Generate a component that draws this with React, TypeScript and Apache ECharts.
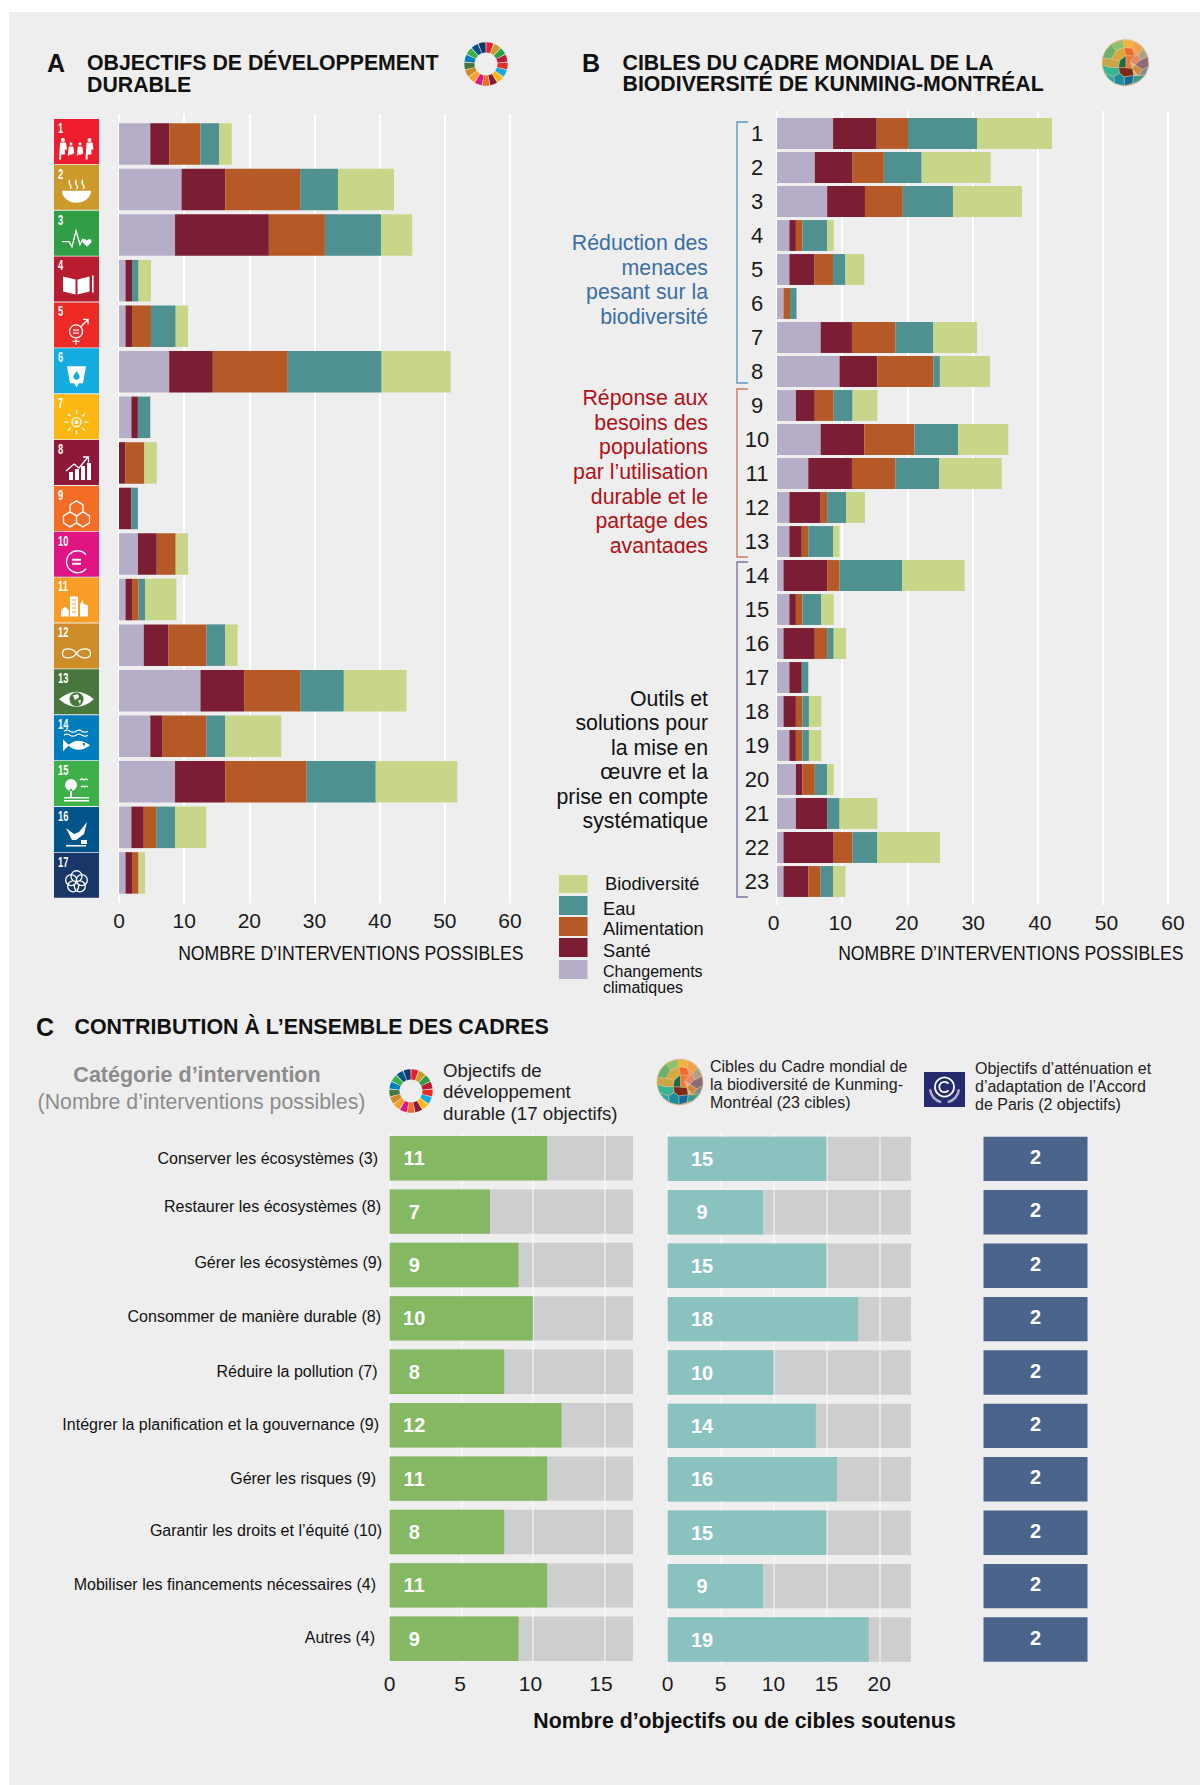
import React, { useEffect, useRef } from "react";
import * as echarts from "echarts";

const FONT = '"Liberation Sans", Arial, sans-serif';

// ---- Data ----
const goalNumbers = ["1","2","3","4","5","6","7","8","9","10","11","12","13","14","15","16","17"];
const goalClimate = [4.8,9.6,8.6,1,1,7.7,1.9,0,0,2.9,1,3.8,12.5,4.8,8.6,1.9,1];
const goalHealth  = [2.9,6.7,14.4,1,1,6.7,1,1,1.9,2.9,1,3.8,6.7,1.9,7.7,1.9,1];
const goalFood    = [4.8,11.5,8.6,0,2.9,11.5,0,2.9,0,2.9,1,5.8,8.6,6.7,12.5,1.9,1];
const goalWater   = [2.9,5.8,8.6,1,3.8,14.4,1.9,0,1,0,1,2.9,6.7,2.9,10.6,2.9,0];
const goalBio     = [1.9,8.6,4.8,1.9,1.9,10.6,0,1.9,0,1.9,4.8,1.9,9.6,8.6,12.5,4.8,1];

const targetNumbers = ["1","2","3","4","5","6","7","8","9","10","11","12","13","14","15","16","17","18","19","20","21","22","23"];
const targetClimate = [8.6,5.8,7.7,1.9,1.9,1,6.7,9.6,2.9,6.7,4.8,1.9,1.9,1,1.9,1,1.9,1,1.9,2.9,2.9,1,1];
const targetHealth  = [6.7,5.8,5.8,1,3.8,0,4.8,5.8,2.9,6.7,6.7,4.8,1.9,6.7,1,4.8,1.9,1.9,1,1,4.8,7.7,3.8];
const targetFood    = [4.8,4.8,5.8,1,2.9,1,6.7,8.6,2.9,7.7,6.7,1,1,1.9,1,1.9,0,1,1,1.9,0,2.9,1.9];
const targetWater   = [10.6,5.8,7.7,3.8,1.9,1,5.8,1,2.9,6.7,6.7,2.9,3.8,9.6,2.9,1,1,1,1,1.9,1.9,3.8,1.9];
const targetBio     = [11.5,10.6,10.6,1,2.9,0,6.7,7.7,3.8,7.7,9.6,2.9,1,9.6,1.9,1.9,0,1.9,1.9,1,5.8,9.6,1.9];

const themeNames = ["Changements climatiques","Santé","Alimentation","Eau","Biodiversité"];
const themeColors = ["#b6aec8","#7b1e33","#b55a27","#4f9190","#c8d68a"];

const interventionCategories = [
  "Conserver les écosystèmes (3)","Restaurer les écosystèmes (8)","Gérer les écosystèmes (9)",
  "Consommer de manière durable (8)","Réduire la pollution (7)","Intégrer la planification et la gouvernance (9)",
  "Gérer les risques (9)","Garantir les droits et l’équité (10)","Mobiliser les financements nécessaires (4)","Autres (4)",
];
const sdgSupported    = [11,7,9,10,8,12,11,8,11,9];
const sdgTotal        = [17,17,17,17,17,17,17,17,17,17];
const kmgbfSupported  = [15,9,15,18,10,14,16,15,9,19];
const kmgbfTotal      = [23,23,23,23,23,23,23,23,23,23];
const parisSupported  = [2,2,2,2,2,2,2,2,2,2];

const sdgColors = ["#ed1c2e","#cc9a2b","#2f9e47","#b71c30","#ee2a26","#14abdf","#fdb713","#8f1838","#f36d25","#e11484","#f99d26","#cf8d2a","#48773e","#007dbc","#3eb049","#02558b","#183668"];
const axisTicksNote = "NOMBRE D’INTERVENTIONS POSSIBLES";

// Label placement of panel C's row names (styling only)
const rowLabelPadRight = [6.7,3.7,2.7,3.7,7.2,5.7,8.7,2.7,8.7,9.7];
const rowLabelPadBottom = [0,9.6,4.6,4,1.6,2,0,2.6,2,2.6];

// ---- Icon glyphs (local 45x45 box) ----
const circ = (x: number, y: number, r: number) => `M${x - r} ${y}a${r} ${r} 0 1 0 ${2 * r} 0a${r} ${r} 0 1 0 ${-2 * r} 0Z`;
const box = (x: number, y: number, w: number, h: number) => `M${x} ${y}h${w}v${h}h${-w}Z`;
const person = (x: number, top: number, w: number) => circ(x, top, w * 0.33) + `M${x - w / 2} ${top + 2.5}h${w}l1 7h-${w * 0.35}v${35.5 - top - 9.5}h-${w * 0.3 + 2}v${35.5 - top - 9.5}h-${w * 0.35}Z`;

type Glyph = [string, "fill" | "stroke", string?, number?];
const sunRays = [0, 45, 90, 135, 180, 225, 270, 315].map((a) => {
  const c = Math.cos((a * Math.PI) / 180), s = Math.sin((a * Math.PI) / 180);
  return `M${22.5 + c * 8} ${28 + s * 8}L${22.5 + c * 12} ${28 + s * 12}`;
}).join("");
const glyphs: Glyph[][] = [
  [[person(9, 21, 6) + person(17, 25, 4.5) + person(26, 25, 4.5) + person(35.5, 21, 6), "fill"]],
  [["M8 26h29a14.5 12 0 0 1 -29 0Z", "fill"], ["M16 15q-2 2.5 0 5t0 4M22.5 15q-2 2.5 0 5t0 4M29 15q-2 2.5 0 5t0 4", "stroke"]],
  [["M8 31h7l3 5 4-16 4 14 3-6", "stroke"], ["M33 30c-2-3-6-1-4 2l4 4 4-4c2-3-2-5-4-2Z", "fill"]],
  [["M9 20l12.5 3v15l-12.5-3ZM23.5 23l12-3v15l-12 3Z", "fill"], [box(38, 19, 1.6, 17), "fill"]],
  [[circ(22, 29, 6.5) + "M27 24l7-7M29 17h5v5M22 35.5v7M18.5 39h7", "stroke"], [box(19, 27, 6, 1.3) + box(19, 30, 6, 1.3), "fill"]],
  [["M13 18h19l-3 17h-4l-2.5 4-2.5-4h-4Z", "fill"], ["M22.5 23c-3 4-3.5 5-3 6.5 1 2.5 5 2.5 6 0 .5-1.5 0-2.5-3-6.5Z", "fill", "#14abdf"]],
  [[circ(22.5, 28, 4.5), "stroke"], [circ(22.5, 28, 2), "fill"], [sunRays, "stroke"]],
  [[box(15, 32, 4, 8) + box(21, 29, 4, 11) + box(27, 26, 4, 14) + box(33, 23, 4, 17), "fill"], ["M12 31l8-7 5 4 9-11M29 17h5.5v5.5", "stroke"]],
  [["M22.5 15l6.5 4v7l-6.5 4-6.5-4v-7ZM16 26l6.5 4v7l-6.5 4-6.5-4v-7ZM29 26l6.5 4v7l-6.5 4-6.5-4v-7Z", "stroke"]],
  [["M32 23a11 11 0 1 0 0 14", "stroke"], [box(18, 27, 9, 2) + box(18, 31, 9, 2), "fill"]],
  [[box(16, 19, 8, 20) + "M26 39v-12l3-5v4l5 2v11Z" + "M7 39v-6l4-4 4 4v6Z", "fill"], [box(18, 22, 4, 1) + box(18, 26, 4, 1) + box(18, 30, 4, 1) + box(18, 34, 4, 1), "fill", "#f99d26"]],
  [["M22.5 30c-4-6-14-6-14 0s10 6 14 0 14-6 14 0-10 6-14 0Z", "stroke"]],
  [["M5 30Q22.5 15 40 30Q22.5 45 5 30Z", "fill"], [circ(22.5, 30, 7), "fill", "#48773e"], ["M19 26l5-1 1 3-4 3ZM24 31l3 0-1 4Z", "fill"]],
  [["M10 16q3-2 6 0t6 0 6 0 6 0M10 20q3-2 6 0t6 0 6 0 6 0", "stroke"], ["M14 30q10-9 22 0q-12 9-22 0ZM9 24l6 6-6 6Z", "fill"], [circ(30, 29, 1.2), "fill", "#007dbc"]],
  [[circ(17, 24, 6) + box(16, 28, 2, 8) + box(10, 36, 25, 1.5) + box(10, 39, 25, 1.5), "fill"], ["M26 19q2-2 4 0q2-2 4 0M27 26q2-2 3.5 0q2-2 3.5 0", "stroke"]],
  [["M12 21l8 6 5-2 8-10-3 12-8 6h-4ZM27 37h6v-4h-6ZM12 38h20v1.5h-20Z", "fill"]],
  [[circ(22.5, 23.5, 5.5) + circ(27.8, 27.4, 5.5) + circ(25.8, 33.6, 5.5) + circ(19.2, 33.6, 5.5) + circ(17.2, 27.4, 5.5), "stroke"]],
];
const glyphShapes: string[][] = glyphs.map((list, i) =>
  list.map((g, j) => {
    const name = `sdg${i}_${j}`;
    echarts.graphic.registerShape(name, echarts.graphic.extendPath(g[0], {}) as any);
    return name;
  })
);

// Mosaic logo cells (unit circle)
const mosaicCells: [number[][], string][] = [
  [[[-.6,-.78],[-.1,-.98],[-.05,-.65],[-.4,-.5]], "#8cc26a"],
  [[[-.1,-.98],[.35,-.92],[.3,-.6],[-.05,-.65]], "#f3b23c"],
  [[[.35,-.92],[.75,-.62],[.55,-.35],[.3,-.6]], "#efa24a"],
  [[[-.6,-.78],[-.4,-.5],[-.6,-.15],[-.97,-.2],[-.85,-.5]], "#6fb06a"],
  [[[-.4,-.5],[-.05,-.65],[.02,-.3],[-.25,-.08],[-.6,-.15]], "#d9a83e"],
  [[[-.05,-.65],[.3,-.6],[.42,-.28],[.02,-.3]], "#ee6a2c"],
  [[[.3,-.6],[.55,-.35],[.42,-.28]], "#f0925a"],
  [[[.75,-.62],[.95,-.25],[.6,-.08],[.55,-.35]], "#a9a18a"],
  [[[.42,-.28],[.55,-.35],[.6,-.08],[.42,.1],[.2,-.05]], "#e9866a"],
  [[[.02,-.3],[.42,-.28],[.2,-.05],[.3,.25],[.02,.22]], "#f07a32"],
  [[[-.25,-.08],[.02,-.3],[.02,.22],[-.3,.2]], "#1a6a45"],
  [[[-.97,-.2],[-.6,-.15],[-.25,-.08],[-.3,.2],[-.7,.2],[-.99,.1]], "#c9a546"],
  [[[.95,-.25],[.99,.15],[.72,.3],[.42,.1],[.6,-.08]], "#8a6b78"],
  [[[.42,.1],[.72,.3],[.55,.55],[.3,.25]], "#d08a3c"],
  [[[.99,.15],[.85,.52],[.55,.55],[.72,.3]], "#7f8c8c"],
  [[[-.3,.2],[.02,.22],[.3,.25],[.35,.55],[-.05,.6],[-.25,.45]], "#7e2a1a"],
  [[[-.99,.1],[-.7,.2],[-.3,.2],[-.25,.45],[-.5,.6],[-.88,.45]], "#34b594"],
  [[[.85,.52],[.55,.8],[.3,.88],[.35,.55],[.55,.55]], "#3a9a8a"],
  [[[-.05,.6],[.35,.55],[.3,.88],[-.05,.98]], "#15699a"],
  [[[-.25,.45],[-.05,.6],[-.05,.98],[-.45,.88],[-.5,.6]], "#1b8fa0"],
  [[[-.88,.45],[-.5,.6],[-.45,.88],[-.72,.68]], "#2ea6a0"],
];

function App() {
  const ref = useRef<HTMLDivElement>(null);
  useEffect(() => {
    const chart = echarts.init(ref.current!, undefined, { renderer: "svg" });

    const txt = (text: string, x: number, y: number, size: number, o: any = {}) => ({
      type: "text", x, y, scaleX: o.scaleX ?? 1, silent: true,
      style: {
        text, fill: o.color ?? "#111", fontSize: size, fontFamily: FONT, fontWeight: o.weight ?? "normal",
        align: o.align ?? "left", verticalAlign: "middle", textAlign: o.align ?? "left", textVerticalAlign: "middle",
      },
    });

    const wheel = (cx: number, cy: number) => sdgColors.map((c, i) => ({
      type: "sector", silent: true,
      shape: {
        cx, cy, r: 21.7, r0: 11.5,
        startAngle: -Math.PI / 2 + (i * 2 * Math.PI) / 17 + 0.02,
        endAngle: -Math.PI / 2 + ((i + 1) * 2 * Math.PI) / 17 - 0.02,
      },
      style: { fill: c },
    }));

    const mosaic = (cx: number, cy: number, r: number) => [
      { type: "circle", silent: true, shape: { cx, cy, r }, style: { fill: "#d9b88a" } },
      ...mosaicCells.map(([pts, c]) => ({
        type: "polygon", silent: true,
        shape: { points: pts.map(([a, b]) => [cx + a * r, cy + b * r]) },
        style: { fill: c, stroke: "#e9c9a0", lineWidth: 0.4 },
      })),
    ];

    const icons: any[] = [];
    sdgColors.forEach((c, i) => {
      const x = 54, y = 119 + i * 45.86;
      icons.push({ type: "rect", silent: true, shape: { x, y, width: 45, height: 45 }, style: { fill: c } });
      glyphs[i].forEach((g, j) => {
        const col = g[2] ?? "#fff";
        icons.push({
          type: glyphShapes[i][j], x, y, silent: true,
          style: g[1] === "fill" ? { fill: col, stroke: null } : { fill: "none", stroke: col, lineWidth: 1.3 },
        });
      });
      icons.push(txt(goalNumbers[i], x + 4, y + 9, 15, { color: "#fff", weight: "bold", scaleX: 0.62 }));
    });

    const bracket = (top: number, bottom: number, color: string) => ({
      type: "polyline", silent: true,
      shape: { points: [[748, top], [737, top], [737, bottom], [748, bottom]] },
      style: { fill: "none", stroke: color, lineWidth: 1.4 },
    });

    const legendItems: [number, number, string][] = [
      [875, 18, themeColors[4]], [896, 19, themeColors[3]], [917, 19, themeColors[2]], [938, 19, themeColors[1]], [960, 19, themeColors[0]],
    ];

    const para = (lines: string[], ys: number[], x: number, size: number, color: string, align = "right") =>
      lines.map((l, i) => txt(l, x, ys[i], size, { color, align }));

    const graphicEls: any[] = [
      txt("A", 47, 63, 25, { weight: "bold" }),
      txt("OBJECTIFS DE DÉVELOPPEMENT", 87, 63, 21.3, { weight: "bold" }),
      txt("DURABLE", 87, 85, 21.3, { weight: "bold" }),
      txt("B", 582, 63, 25, { weight: "bold" }),
      txt("CIBLES DU CADRE MONDIAL DE LA", 622.5, 62.5, 21.3, { weight: "bold" }),
      txt("BIODIVERSITÉ DE KUNMING-MONTRÉAL", 622.5, 84, 21.3, { weight: "bold" }),
      txt("C", 36, 1027, 25, { weight: "bold" }),
      txt("CONTRIBUTION À L’ENSEMBLE DES CADRES", 74.5, 1027, 21.4, { weight: "bold" }),
      ...wheel(486, 64), ...wheel(411, 1091),
      ...mosaic(1125.4, 62.7, 23.5), ...mosaic(680, 1082, 23.3),
      ...icons,
      txt(axisTicksNote, 523.5, 952.5, 21, { align: "right", scaleX: 0.84 }),
      txt(axisTicksNote, 1183.5, 952.5, 21, { align: "right", scaleX: 0.84 }),
      bracket(122, 383, "#5b9bbd"), bracket(389, 557, "#c97a60"), bracket(562, 897, "#7c74a8"),
      ...para(["Réduction des", "menaces", "pesant sur la", "biodiversité"], [243, 268, 292, 317], 708, 21.3, "#3a6ea5"),
      ...para(["Réponse aux", "besoins des", "populations", "par l’utilisation", "durable et le", "partage des", "avantages"], [397.5, 422.5, 447, 472, 497, 521, 546], 708, 21.3, "#b01116"),
      { type: "rect", silent: true, shape: { x: 640, y: 553, width: 72, height: 8 }, style: { fill: "#eeeeee" } },
      ...para(["Outils et", "solutions pour", "la mise en", "œuvre et la", "prise en compte", "systématique"], [699, 723, 748, 772, 797, 821], 708, 21.3, "#111"),
      ...legendItems.map(([y, h, c]) => ({ type: "rect", silent: true, shape: { x: 559, y, width: 28.5, height: h }, style: { fill: c } })),
      txt("Biodiversité", 605, 883, 18.3),
      txt("Eau", 603, 908, 18.3),
      txt("Alimentation", 603, 928, 18.3),
      txt("Santé", 603, 950, 18.3),
      txt("Changements", 603, 971, 16),
      txt("climatiques", 603, 987, 16),
      txt("Catégorie d’intervention", 197, 1075, 21.5, { weight: "bold", color: "#8c8c8c", align: "center" }),
      txt("(Nombre d’interventions possibles)", 201.5, 1102, 21.3, { color: "#8c8c8c", align: "center" }),
      ...para(["Objectifs de", "développement", "durable (17 objectifs)"], [1070, 1091, 1113], 443, 18.7, "#222", "left"),
      ...para(["Cibles du Cadre mondial de", "la biodiversité de Kunming-", "Montréal (23 cibles)"], [1066, 1084, 1102], 710, 16, "#222", "left"),
      ...para(["Objectifs d’atténuation et", "d’adaptation de l’Accord", "de Paris (2 objectifs)"], [1068, 1086, 1104], 975, 16, "#222", "left"),
      { type: "rect", silent: true, shape: { x: 924, y: 1072, width: 41, height: 35 }, style: { fill: "#252b6e" } },
      { type: "circle", silent: true, shape: { cx: 944.5, cy: 1087, r: 9.5 }, style: { stroke: "#fff", fill: "none", lineWidth: 1.8 } },
      { type: "arc", silent: true, shape: { cx: 944.5, cy: 1087, r: 5.2, startAngle: 0.7, endAngle: -0.7, clockwise: true }, style: { stroke: "#fff", fill: "none", lineWidth: 1.8 } },
      { type: "arc", silent: true, shape: { cx: 944.5, cy: 1088, r: 14.5, startAngle: 0.1, endAngle: 1.35, clockwise: true }, style: { stroke: "#aeb0cc", fill: "none", lineWidth: 2.5 } },
      { type: "arc", silent: true, shape: { cx: 944.5, cy: 1088, r: 14.5, startAngle: 1.8, endAngle: 3.04, clockwise: true }, style: { stroke: "#aeb0cc", fill: "none", lineWidth: 2.5 } },
      txt("Nombre d’objectifs ou de cibles soutenus", 744.5, 1721, 21.3, { weight: "bold", align: "center" }),
    ];

    const tickLabel = { color: "#1a1a1a", fontSize: 21, fontFamily: FONT };
    const lineAxis = (gridIndex: number, labels: boolean) => ({
      type: "value", gridIndex, min: 0, max: 60, interval: 10,
      axisLine: { show: false }, axisTick: { show: false },
      axisLabel: labels ? { ...tickLabel, margin: 7 } : { show: false },
      splitLine: { show: true, lineStyle: { color: "#fff", width: 2 } },
    });
    const labelAxis = (gridIndex: number, max: number, interval: number) => ({
      type: "value", gridIndex, min: 0, max, interval,
      axisLine: { show: false }, axisTick: { show: false }, splitLine: { show: false },
      axisLabel: { ...tickLabel, margin: 7, showMaxLabel: max % interval === 0 },
    });
    const hiddenX = (gridIndex: number, max: number) => ({ type: "value", gridIndex, min: 0, max, show: false });
    const hiddenYValue = (gridIndex: number) => ({ type: "value", gridIndex, min: 0, max: 1, show: false });
    const catY = (gridIndex: number, data: any[], extra: any = {}) => ({
      type: "category", gridIndex, data, inverse: true,
      axisLine: { show: false }, axisTick: { show: false }, splitLine: { show: false },
      ...extra,
    });

    const stacked = (idx: number, vals: number[][], width: number, stack: string) =>
      vals.map((d, i) => ({
        type: "bar", name: themeNames[i], stack, xAxisIndex: idx, yAxisIndex: idx,
        data: d, barWidth: width, itemStyle: { color: themeColors[i] }, silent: true,
      }));

    const cX = (gridIndex: number, max: number, labels: boolean) => ({
      type: "value", gridIndex, min: 0, max, interval: 5, z: 3,
      axisLine: { show: false }, axisTick: { show: false },
      axisLabel: labels ? { ...tickLabel, margin: 7, showMaxLabel: false } : { show: false },
      splitLine: { show: true, showMaxLine: false, lineStyle: { color: "rgba(255,255,255,0.6)", width: 1.5 } },
    });
    const pair = (idx: number, total: number[], vals: number[], color: string, lx: number) => [
      { type: "bar", xAxisIndex: idx, yAxisIndex: idx, z: 2, data: total, barWidth: 44.4, barGap: "-100%", silent: true, itemStyle: { color: "#cdcecf" } },
      {
        type: "bar", xAxisIndex: idx, yAxisIndex: idx, z: 4, data: vals, barWidth: 44.4, barGap: "-100%", silent: true, itemStyle: { color },
        label: { show: true, position: [lx, "50%"], align: "center", verticalAlign: "middle", color: "#fff", fontSize: 20, fontWeight: "bold", fontFamily: FONT },
      },
    ];

    const rowRich: any = {};
    interventionCategories.forEach((_, i) => {
      rowRich[`r${i}`] = {
        color: "#111", fontSize: 16, fontFamily: FONT,
        padding: [0, rowLabelPadRight[i], rowLabelPadBottom[i], 0],
      };
    });

    chart.setOption({
      animation: false,
      grid: [
        { left: 119, width: 391, top: 114, height: 789 },
        { left: 119, width: 391, top: 121.2, height: 774.5 },
        { left: 777, width: 391, top: 111, height: 794 },
        { left: 777, width: 391, top: 116.5, height: 782 },
        { left: 389.7, width: 243.3, top: 1131.5, height: 534 },
        { left: 667.7, width: 243.3, top: 1132.2, height: 534 },
        { left: 983.5, width: 104, top: 1132.2, height: 534 },
        { left: 773.6, width: 399.4, top: 111, height: 794 },
        { left: 389.5, width: 239.7, top: 1131.5, height: 534 },
      ],
      xAxis: [
        lineAxis(0, true), hiddenX(1, 60), lineAxis(2, false), hiddenX(3, 60),
        cX(4, 17, false), cX(5, 23, true), hiddenX(6, 2),
        labelAxis(7, 60, 10), labelAxis(8, 17, 5),
      ],
      yAxis: [
        hiddenYValue(0),
        catY(1, goalNumbers, { axisLabel: { show: false } }),
        hiddenYValue(2),
        catY(3, targetNumbers, { axisLabel: { color: "#1a1a1a", fontSize: 22, fontFamily: FONT, align: "center", margin: 20 } }),
        catY(4, interventionCategories, {
          axisLabel: {
            color: "#111", fontSize: 16, fontFamily: FONT, margin: 5, rich: rowRich,
            formatter: (value: string, index: number) => `{r${index}|${value}}`,
          },
        }),
        catY(5, interventionCategories, { axisLabel: { show: false } }),
        catY(6, interventionCategories, { axisLabel: { show: false } }),
        hiddenYValue(7),
        hiddenYValue(8),
      ],
      series: [
        ...stacked(1, [goalClimate, goalHealth, goalFood, goalWater, goalBio], 41.5, "a"),
        ...stacked(3, [targetClimate, targetHealth, targetFood, targetWater, targetBio], 30.9, "b"),
        ...pair(4, sdgTotal, sdgSupported, "#85b862", 24.5),
        ...pair(5, kmgbfTotal, kmgbfSupported, "#8ac2bf", 34.4),
        {
          type: "bar", xAxisIndex: 6, yAxisIndex: 6, data: parisSupported, barWidth: 44.4, silent: true, itemStyle: { color: "#4a648c" },
          label: { show: true, position: "inside", offset: [0, -2], color: "#fff", fontSize: 20, fontWeight: "bold", fontFamily: FONT },
        },
      ],
      graphic: { elements: graphicEls },
    });
    return () => chart.dispose();
  }, []);

  return (
    <div style={{ position: "absolute", left: 0, top: 0, width: 1200, height: 1785, background: "#fff", overflow: "hidden" }}>
      <div style={{ position: "absolute", left: 9, top: 12, right: 0, bottom: 0, background: "#eeeeee" }} />
      <div ref={ref} style={{ position: "absolute", left: 0, top: 0, width: 1200, height: 1785 }} />
    </div>
  );
}

export default App;
